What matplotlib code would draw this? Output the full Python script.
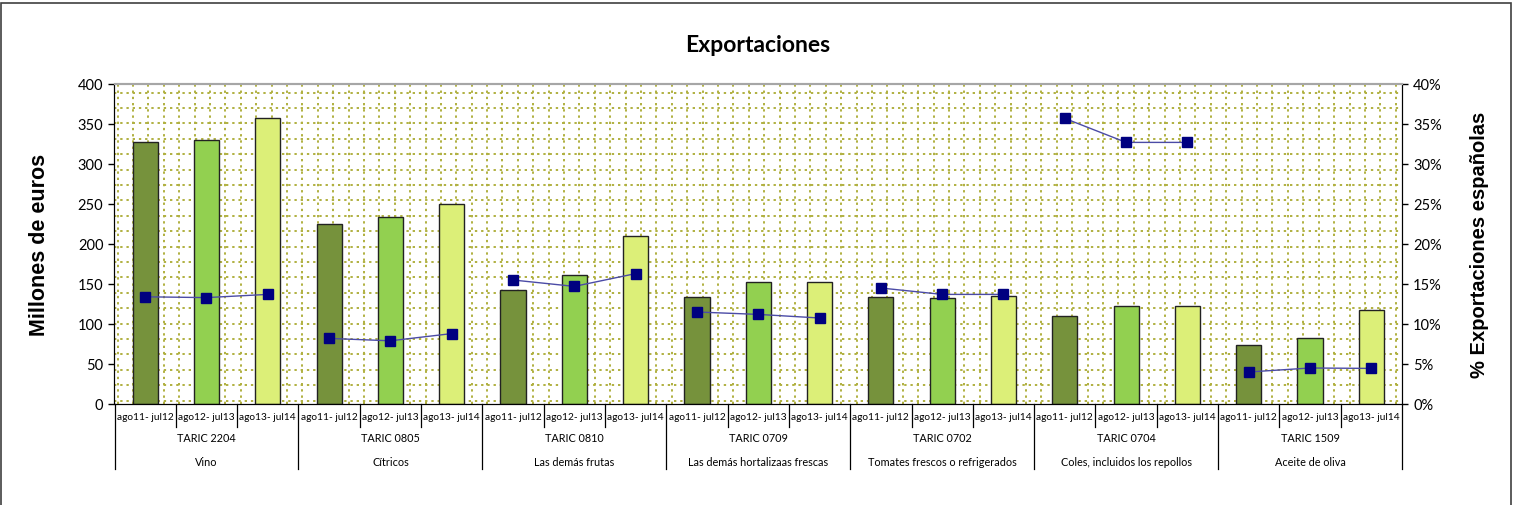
import numpy as np
import matplotlib
matplotlib.use("Agg")
import matplotlib.pyplot as plt
import matplotlib.transforms as mtransforms
from matplotlib.patches import Rectangle

# Data
periods = ["ago11- jul12", "ago12- jul13", "ago13- jul14"]
taric_codes = ["TARIC 2204", "TARIC 0805", "TARIC 0810", "TARIC 0709",
               "TARIC 0702", "TARIC 0704", "TARIC 1509"]
products = ["Vino", "Cítricos", "Las demás frutas", "Las demás hortalizaas frescas",
            "Tomates frescos o refrigerados", "Coles, incluidos los repollos",
            "Aceite de oliva"]

# millions of euros, one row per product, one column per period
exports = [
    [327, 330, 358],
    [225, 234, 250],
    [143, 161, 210],
    [134, 152, 152],
    [134, 133, 135],
    [110, 122, 122],
    [74, 83, 117],
]
# share of Spanish exports (%)
share = [
    [13.4, 13.3, 13.7],
    [8.2, 7.9, 8.8],
    [15.5, 14.7, 16.3],
    [11.5, 11.2, 10.75],
    [14.5, 13.7, 13.7],
    [35.7, 32.7, 32.7],
    [4.0, 4.5, 4.45],
]

bar_colors = ["#76923c", "#92d050", "#dcef78"]
grid_color = "#b0b040"

W, H = 1515, 506
fig = plt.figure(figsize=(W / 100, H / 100), dpi=100)
# plot area in pixels
px_left, px_right, px_top, px_bot = 114.5, 1402, 85, 405
ax = fig.add_axes([px_left / W, (H - px_bot) / H,
                   (px_right - px_left) / W, (px_bot - px_top) / H])

n_groups = len(products)
n_per = len(periods)
n = n_groups * n_per
x = np.arange(n)

# background dotted grid pattern (Excel pattern fill)
step = 15.4
pw, ph = px_right - px_left, px_bot - px_top
gx = 3.0
while gx < pw:
    ax.axvline(gx / pw * n - 0.5, color=grid_color, ls=(0, (1.2, 2)), lw=1.4, zorder=0)
    gx += step
gy = 8.5
while gy < ph:
    ax.axhline(400 - gy / ph * 400, color=grid_color, ls=(0, (1.2, 2)), lw=1.4, zorder=0)
    gy += step

# bars
vals = np.array(exports).ravel()
cols = [bar_colors[i % n_per] for i in range(n)]
ax.bar(x, vals, width=0.41, color=cols, edgecolor="#222222", linewidth=1, zorder=2)

ax.set_xlim(-0.5, n - 0.5)
ax.set_ylim(0, 400)
ax.set_yticks(np.arange(0, 401, 50))
ax.set_xticks([])

# secondary axis with the share line
ax2 = ax.twinx()
ax2.set_ylim(0, 40)
ax2.set_yticks(np.arange(0, 41, 5))
ax2.set_yticklabels([f"{v}%" for v in range(0, 41, 5)])
for g in range(n_groups):
    xs = x[g * n_per:(g + 1) * n_per]
    ax2.plot(xs, share[g], color="#4b4ba6", lw=1, zorder=3)
    ax2.plot(xs, share[g], ls="none", marker="s", ms=7, color="#000080", zorder=4)

tick_font = dict(family=["Lato", "DejaVu Sans"], size=10.5)
for a in (ax, ax2):
    a.tick_params(axis="y", length=4, width=1, color="black", pad=4)
    for lab in a.get_yticklabels():
        lab.set_fontfamily(tick_font["family"])
        lab.set_fontsize(tick_font["size"])
    a.spines["top"].set_color("#a6a6a6")
    a.spines["top"].set_linewidth(1.5)
    a.spines["bottom"].set_color("black")
    a.spines["left"].set_color("black")
    a.spines["right"].set_color("black")

ax.set_ylabel("Millones de euros", family="Liberation Sans", fontsize=15.5,
              fontweight="bold", labelpad=20)
ax2.set_ylabel("% Exportaciones españolas", family="Liberation Sans", fontsize=14.5,
               fontweight="bold", labelpad=20)

fig.text(758 / W, 1 - 45 / H, "Exportaciones", ha="center", va="center",
         family=["Lato", "DejaVu Sans"], fontsize=16.5, fontweight="bold")

# multi-level category axis
trans = mtransforms.blended_transform_factory(ax.transData, ax.transAxes)
y_per = (px_bot - 418) / ph
y_code = (px_bot - 439) / ph
y_name = (px_bot - 463) / ph
y_short = (px_bot - 428) / ph
y_long = (px_bot - 470) / ph
lab_font = ["Lato", "DejaVu Sans"]
for i in range(n):
    ax.text(x[i], y_per, periods[i % n_per], transform=trans, ha="center",
            va="center", fontsize=7.3, family=lab_font, clip_on=False)
for b in range(n + 1):
    y_end = y_long if b % n_per == 0 else y_short
    ax.plot([b - 0.5, b - 0.5], [0, y_end], transform=trans, color="black",
            lw=0.9, clip_on=False)
for g in range(n_groups):
    xc = g * n_per + 1
    ax.text(xc, y_code, taric_codes[g], transform=trans, ha="center", va="center",
            fontsize=7.8, family=lab_font, clip_on=False)
    ax.text(xc, y_name, products[g], transform=trans, ha="center", va="center",
            fontsize=7.8, family=lab_font, clip_on=False)

# chart frame
fig.patches.append(Rectangle((1 / W, -0.01), 1510 / W, 1 - 4 / H + 0.01,
                             transform=fig.transFigure, fill=False,
                             edgecolor="#404040", lw=1.2))

fig.savefig("out.png", dpi=100)
